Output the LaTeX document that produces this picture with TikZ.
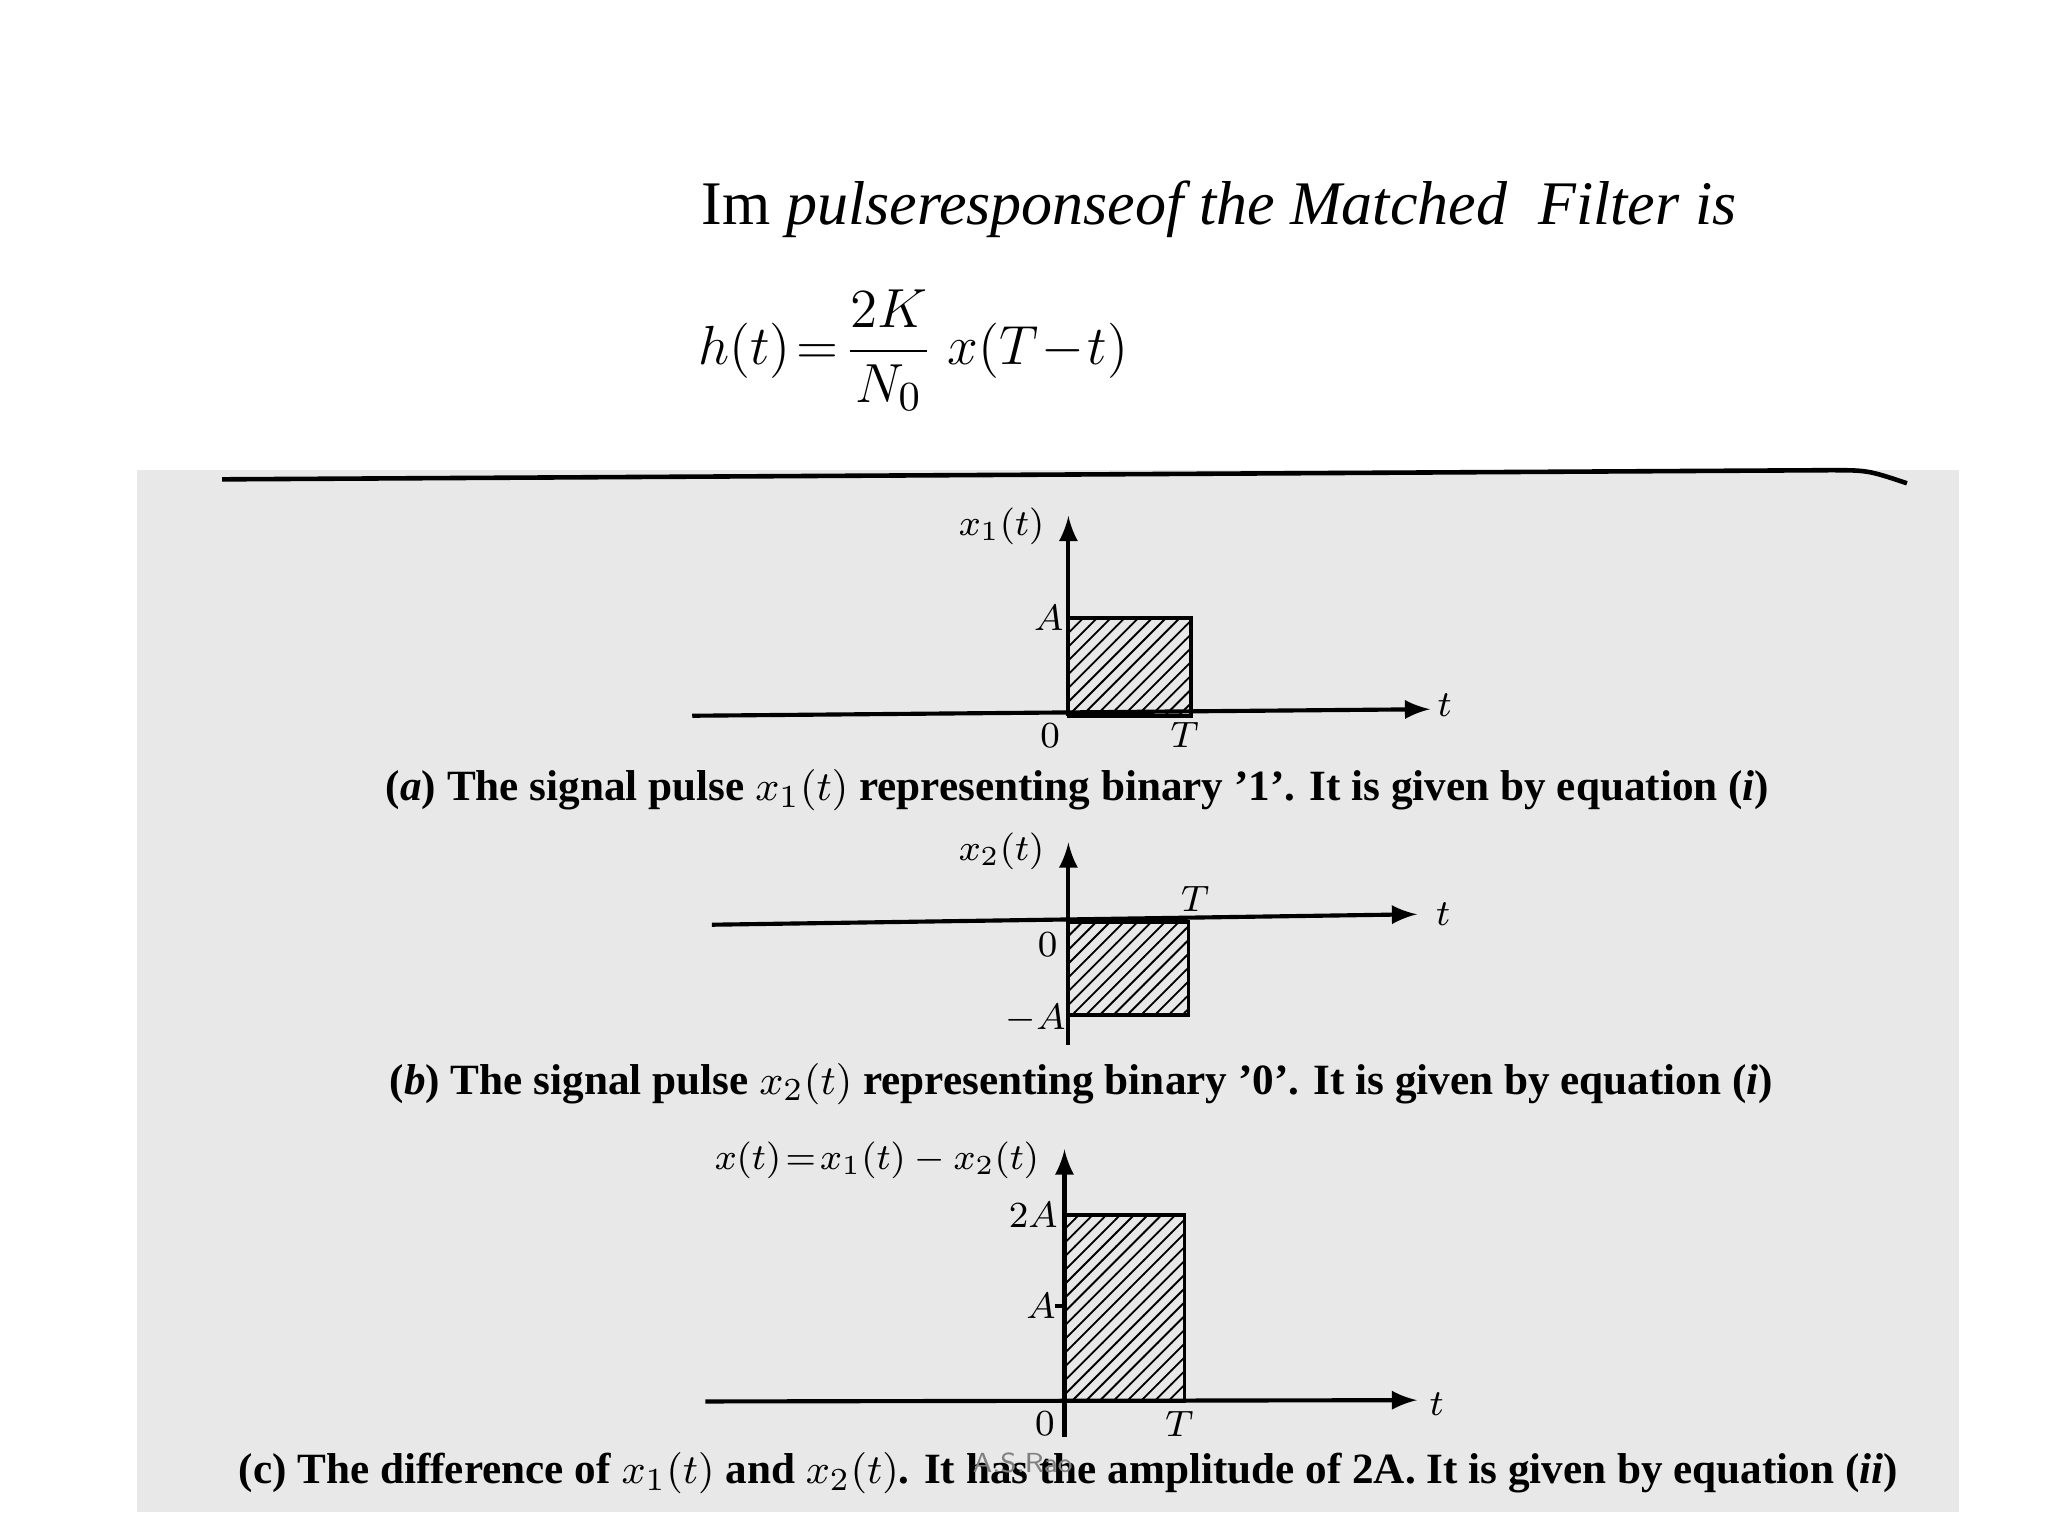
\documentclass[tikz,border=0pt]{standalone}
\usepackage{fontspec}
\setmainfont{Liberation Serif}
\usetikzlibrary{patterns}
\begin{document}
\begin{tikzpicture}[x=0.01cm,y=-0.01cm,
  ax/.style={line width=0.9pt,-latex},
  pulse/.style={draw,line width=0.8pt,pattern=north east lines},
  lab/.style={font=\fontsize{8}{9}\selectfont},
  captxt/.style={font=\fontsize{9.4}{11}\selectfont\bfseries}]
\useasboundingbox (0,0) rectangle (1568,1176);
\fill[white] (0,0) rectangle (1568,1176);
\node[anchor=west,font=\fontsize{13.5}{15}\selectfont] (title) at (525,160) {Im \textit{pulseresponseof the Matched\ \ Filter is}};
\node[anchor=west,font=\fontsize{12.5}{15}\selectfont] (eq) at (522,268) {$\displaystyle h(t)\!=\!\frac{2K}{N_0}\;x(T\!-\!t)$};
\fill[gray!18] (105,360) rectangle (1500,1158);
\draw[line width=1pt] (170,367) -- (1400,360) .. controls (1430,360) .. (1460,370);
% panel a
\draw[ax] (530,548) -- (1095,543) coordinate (ta);
\draw[ax] (818,548) -- (818,395) coordinate (ya);
\draw[pulse] (818,473) rectangle (912,548);
\node[lab,anchor=east] (ya-l) at (812,403) {$x_1(t)$};
\node[lab] (ta-l) at (1106,540) {$t$};
\node[lab] (aa) at (803,473) {$A$};
\node[lab] (a0) at (804,563) {$0$};
\node[lab] (aT) at (907,563) {$T$};
\node[captxt] (capa) at (825,605) {(\textit{a}) The signal pulse $x_1(t)$ representing binary '1'. It is given by equation (\textit{i})};
% panel b
\draw[ax] (545,708) -- (1085,700) coordinate (tb);
\draw[ax] (818,800) -- (818,645) coordinate (yb);
\draw[pulse] (818,706) rectangle (910,777);
\node[lab,anchor=east] (yb-l) at (812,652) {$x_2(t)$};
\node[lab] (tb-l) at (1105,700) {$t$};
\node[lab] (bT) at (915,688) {$T$};
\node[lab] (b0) at (802,723) {$0$};
\node[lab] (bA) at (793,780) {$-A$};
\node[captxt] (capb) at (828,830) {(\textit{b}) The signal pulse $x_2(t)$ representing binary '0'. It is given by equation (\textit{i})};
% panel c
\draw[ax] (540,1073) -- (1085,1072) coordinate (tc);
\draw[ax] (815,1100) -- (815,880) coordinate (yc);
\draw[pulse] (815,930) rectangle (907,1073);
\draw[line width=0.8pt] (808,1000) -- (815,1000);
\node[lab,anchor=east] (yc-l) at (808,888) {$x(t)\!=\!x_1(t)-x_2(t)$};
\node[lab] (tc-l) at (1100,1075) {$t$};
\node[lab] (c2A) at (791,930) {$2A$};
\node[lab] (cA) at (797,1000) {$A$};
\node[lab] (c0) at (800,1090) {$0$};
\node[lab] (cT) at (903,1090) {$T$};
\node[captxt] (capc) at (818,1128) {(c) The difference of $x_1(t)$ and $x_2(t)$. It has the amplitude of 2A. It is given by equation (\textit{ii})};
\node[font=\fontsize{6}{7}\sffamily,gray] (rao) at (783,1120) {A.S.Rao};
\end{tikzpicture}
\end{document}
